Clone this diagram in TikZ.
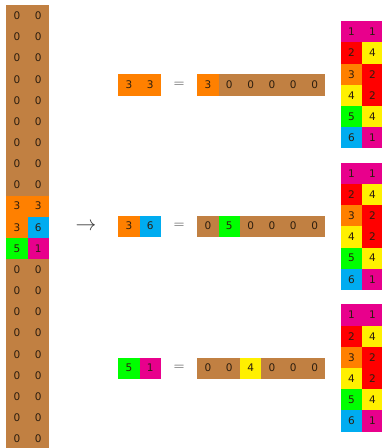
\documentclass[tikz,border=0pt]{standalone}
\usepackage{fontspec}
\setsansfont{DejaVu Sans}
\definecolor{cbrown}{RGB}{193,128,66}
\definecolor{corange}{RGB}{255,128,0}
\definecolor{cblue}{RGB}{0,172,240}
\definecolor{cgreen}{RGB}{0,255,0}
\definecolor{cmag}{RGB}{232,0,140}
\definecolor{cred}{RGB}{255,0,0}
\definecolor{cyellow}{RGB}{255,240,0}
\definecolor{ctext}{RGB}{45,30,15}
\tikzset{
  cell/.style={fill=#1, minimum width=21.4pt, minimum height=21.2pt, inner sep=0pt,
    anchor=north west, text=ctext, font=\sffamily\fontsize{10.5}{12}\selectfont},
  sym/.style={inner sep=0pt, text=black!78}
}
\begin{document}
\begin{tikzpicture}[x=1pt,y=-1pt]
\useasboundingbox (0,0) rectangle (381,448);
% left column
\foreach \r in {0,...,20}{
  \pgfmathsetmacro{\yy}{5+\r*21.15}
  \ifnum\r=9
    \node[cell=corange] (La\r) at (6,\yy) {3};
    \node[cell=corange] (Lb\r) at (27.3,\yy) {3};
  \else\ifnum\r=10
    \node[cell=corange] (La\r) at (6,\yy) {3};
    \node[cell=cblue] (Lb\r) at (27.3,\yy) {6};
  \else\ifnum\r=11
    \node[cell=cgreen] (La\r) at (6,\yy) {5};
    \node[cell=cmag] (Lb\r) at (27.3,\yy) {1};
  \else
    \node[cell=cbrown] (La\r) at (6,\yy) {0};
    \node[cell=cbrown] (Lb\r) at (27.3,\yy) {0};
  \fi\fi\fi
}
% arrow
\node[sym, font=\fontsize{20}{20}\selectfont] (arr) at (86,226.5) {$\rightarrow$};
% middle rows
\foreach \k/\yy/\ca/\ta/\cb/\tb/\p/\cp/\tp in {1/74.2/corange/3/corange/3/0/corange/3, 2/215.3/corange/3/cblue/6/1/cgreen/5, 3/357.3/cgreen/5/cmag/1/2/cyellow/4}{
  \node[cell=\ca] (Pa\k) at (118,\yy) {\ta};
  \node[cell=\cb] (Pb\k) at (139.4,\yy) {\tb};
  \node[sym, font=\fontsize{15}{15}\selectfont] (eq\k) at (179,\yy+10.6) {$=$};
  \foreach \j in {0,...,5}{
    \ifnum\j=\p
      \node[cell=\cp] (S\k-\j) at (197+\j*21.35,\yy) {\tp};
    \else
      \node[cell=cbrown] (S\k-\j) at (197+\j*21.35,\yy) {0};
    \fi
  }
}
% right tables
\foreach \k/\yt in {1/21, 2/162.5, 3/304.2}{
  \foreach \r/\ca/\ta/\cb/\tb in {0/cmag/1/cmag/1, 1/cred/2/cyellow/4, 2/corange/3/cred/2, 3/cyellow/4/cred/2, 4/cgreen/5/cyellow/4, 5/cblue/6/cmag/1}{
    \node[cell=\ca] (Ta\k-\r) at (340.6,\yt+\r*21.2) {\ta};
    \node[cell=\cb] (Tb\k-\r) at (361.6,\yt+\r*21.2) {\tb};
  }
}
\end{tikzpicture}
\end{document}
